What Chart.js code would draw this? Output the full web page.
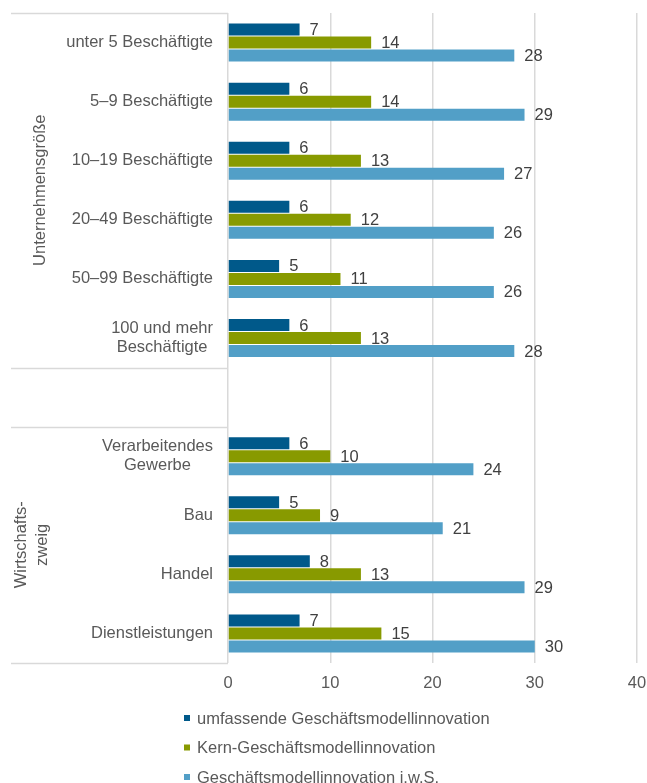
<!DOCTYPE html>
<html>
<head>
<meta charset="utf-8">
<script src="https://cdn.jsdelivr.net/npm/chart.js@4/dist/chart.umd.min.js"></script>
<style>
  html, body { margin: 0; padding: 0; background: #ffffff; }
  #wrap { width: 647px; height: 783px; position: relative; }
</style>
</head>
<body>
<div id="wrap"><canvas id="c" width="647" height="783"></canvas></div>
<script>
// Categories (multi-line labels as arrays); the empty entry separates the two groups
const categories = [
  ["unter 5 Beschäftigte"],
  ["5–9 Beschäftigte"],
  ["10–19 Beschäftigte"],
  ["20–49 Beschäftigte"],
  ["50–99 Beschäftigte"],
  ["100 und mehr", "Beschäftigte"],
  [""],
  ["Verarbeitendes", "Gewerbe"],
  ["Bau"],
  ["Handel"],
  ["Dienstleistungen"]
];

// Group captions on the left and the category ranges they span
const groupLabels = [["Unternehmensgröße"], ["Wirtschafts-", "zweig"]];
const groupFrom = [0, 7];
const groupTo = [5, 10];

// Series names
const seriesNames = [
  "umfassende Geschäftsmodellinnovation",
  "Kern-Geschäftsmodellinnovation",
  "Geschäftsmodellinnovation i.w.S."
];

// Shares in percent
const umfassend = [7, 6, 6, 6, 5, 6, null, 6, 5, 8, 7];
const kern      = [14, 14, 13, 12, 11, 13, null, 10, 9, 13, 15];
const iws       = [28, 29, 27, 26, 26, 28, null, 24, 21, 29, 30];

// Value axis ticks
const xTicks = [0, 10, 20, 30, 40];

const FONT = '"Liberation Sans", Arial, Helvetica, sans-serif';
const FS = 16.5;
const TEXT_GREY = '#595959';
const VALUE_GREY = '#404040';
const LINE_GREY = '#d9d9d9';
const colors = ['#00598a', '#889a00', '#529fc7'];

// Value labels to the right of each bar
const valueLabels = {
  id: 'valueLabels',
  afterDatasetsDraw(chart) {
    const ctx = chart.ctx;
    ctx.save();
    ctx.font = FS + 'px ' + FONT;
    ctx.fillStyle = VALUE_GREY;
    ctx.textAlign = 'left';
    ctx.textBaseline = 'middle';
    chart.data.datasets.forEach((ds, di) => {
      const meta = chart.getDatasetMeta(di);
      meta.data.forEach((bar, i) => {
        const v = ds.data[i];
        if (v === null || v === undefined) return;
        ctx.fillText(String(Math.round(v)), bar.x + 10, bar.y + 1);
      });
    });
    ctx.restore();
  }
};

// Category labels, group captions, separator lines and legend
const sideTable = {
  id: 'sideTable',
  afterDraw(chart) {
    const ctx = chart.ctx;
    const y = chart.scales.y;
    const area = chart.chartArea;
    ctx.save();

    // separator lines of the left table
    ctx.strokeStyle = LINE_GREY;
    ctx.lineWidth = 1.5;
    const bounds = [groupFrom[0] - 0.5, groupTo[0] + 0.5, groupFrom[1] - 0.5, groupTo[1] + 0.5];
    bounds.forEach(b => {
      const py = Math.round(y.getPixelForValue(b)) + 0.5;
      ctx.beginPath();
      ctx.moveTo(11, py);
      ctx.lineTo(area.left, py);
      ctx.stroke();
    });

    // category labels, lines centred inside a right-aligned block
    ctx.font = FS + 'px ' + FONT;
    ctx.fillStyle = TEXT_GREY;
    ctx.textBaseline = 'middle';
    const rightEdge = area.left - 15;
    const lh = 19;
    categories.forEach((lines, i) => {
      const cy = y.getPixelForValue(i);
      const w = Math.max(...lines.map(l => ctx.measureText(l).width));
      const cx = rightEdge - w / 2;
      ctx.textAlign = 'center';
      lines.forEach((l, k) => {
        ctx.fillText(l, cx, cy + (k - (lines.length - 1) / 2) * lh);
      });
    });

    // rotated group captions
    const gx = [40, 32];
    groupLabels.forEach((lines, g) => {
      const cy = y.getPixelForValue((groupFrom[g] + groupTo[g]) / 2);
      ctx.save();
      ctx.translate(gx[g], cy);
      ctx.rotate(-Math.PI / 2);
      ctx.textAlign = 'center';
      ctx.textBaseline = 'middle';
      lines.forEach((l, k) => {
        ctx.fillText(l, 0, (k - (lines.length - 1) / 2) * 21);
      });
      ctx.restore();
    });

    // legend
    ctx.textAlign = 'left';
    ctx.textBaseline = 'middle';
    chart.data.datasets.forEach((ds, di) => {
      const ly = 718 + di * 29.5;
      ctx.fillStyle = ds.backgroundColor;
      ctx.fillRect(184, ly - 3, 6, 6);
      ctx.fillStyle = TEXT_GREY;
      ctx.fillText(ds.label, 197, ly + 1);
    });

    ctx.restore();
  }
};

const datasets = [umfassend, kern, iws].map((vals, i) => ({
  label: seriesNames[i],
  data: vals,
  backgroundColor: colors[i],
  borderWidth: 0,
  categoryPercentage: 0.66,
  barPercentage: 0.923
}));

new Chart(document.getElementById('c'), {
  type: 'bar',
  data: {
    labels: categories.map(l => l.join(' ')),
    datasets: datasets
  },
  options: {
    indexAxis: 'y',
    responsive: false,
    animation: false,
    devicePixelRatio: 1,
    layout: { padding: { top: 13, right: 10, left: 0, bottom: 0 } },
    plugins: {
      legend: { display: false },
      tooltip: { enabled: false }
    },
    scales: {
      x: {
        min: xTicks[0],
        max: xTicks[xTicks.length - 1],
        afterBuildTicks: s => { s.ticks = xTicks.map(v => ({ value: v })); },
        afterFit: s => { s.height = 120; s.paddingLeft = 0; s.paddingRight = 0; },
        ticks: {
          color: TEXT_GREY,
          font: { family: FONT, size: FS },
          padding: 11
        },
        grid: { color: LINE_GREY, lineWidth: 1.5, drawTicks: false },
        border: { display: false }
      },
      y: {
        afterFit: s => { s.width = 228; },
        ticks: { display: false },
        grid: { display: false, drawTicks: false },
        border: { display: false }
      }
    }
  },
  plugins: [valueLabels, sideTable]
});
</script>
</body>
</html>
